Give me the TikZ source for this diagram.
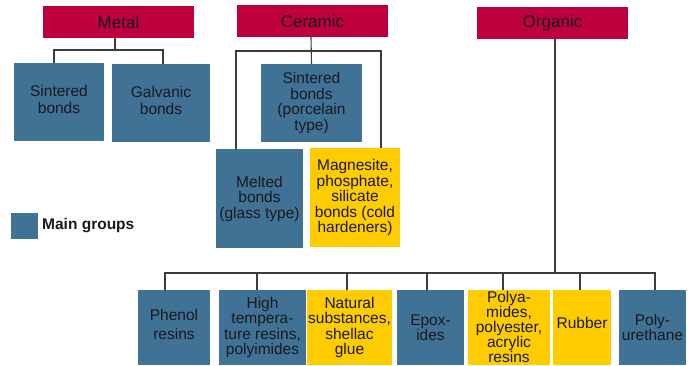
\documentclass[tikz,border=0pt]{standalone}
\usepackage{fontspec}
\setmainfont{Liberation Sans}
\definecolor{cred}{RGB}{190,0,60}
\definecolor{cblue}{RGB}{64,114,150}
\definecolor{cyel}{RGB}{255,204,0}
\definecolor{cline}{RGB}{60,60,60}
\definecolor{ctext}{RGB}{25,25,30}
\begin{document}
\begin{tikzpicture}[x=1pt,y=-1pt,
  title/.style={fill=cred,inner sep=0pt,minimum width=151pt,minimum height=32pt,
    text=ctext,font=\fontsize{17}{17}\selectfont},
  gbox/.style={inner sep=0pt,align=center,text=ctext,
    font=\fontsize{15.5}{15.5}\selectfont},
  bluebox/.style={gbox,fill=cblue},
  yelbox/.style={gbox,fill=cyel},
  conn/.style={draw=cline,line width=1.1pt}]
\useasboundingbox (0,0) rectangle (693,365);
% titles
\node[title] (metal) at (118.5,22) {Metal};
\node[title] (ceramic) at (312.5,21) {Ceramic};
\node[title] (organic) at (552.5,23) {Organic};
% metal children
\node[bluebox,minimum width=90pt,minimum height=78pt] (ms) at (59,102) {\raisebox{5pt}{Sintered}\\\raisebox{5pt}{bonds}};
\node[bluebox,minimum width=98pt,minimum height=78pt] (mg) at (161,103) {\raisebox{5pt}{Galvanic}\\\raisebox{5pt}{bonds}};
% ceramic children
\node[bluebox,minimum width=101pt,minimum height=78pt] (cs) at (311.5,103) {Sintered\\bonds\\(porcelain\\type)};
\node[bluebox,minimum width=87pt,minimum height=99pt] (cm) at (259.5,198.5) {Melted\\bonds\\(glass type)};
\node[yelbox,minimum width=90pt,minimum height=99pt] (cg) at (355,197.5) {Magnesite,\\phosphate,\\silicate\\bonds (cold\\hardeners)};
% legend
\node[fill=cblue,inner sep=0pt,minimum width=27pt,minimum height=26pt] (leg) at (24.5,226) {};
\node[anchor=west,inner sep=0pt,text=ctext,font=\fontsize{15.5}{15.5}\selectfont\bfseries] (legt) at (42,226) {Main groups};
% organic children
\node[bluebox,minimum width=72pt,minimum height=75pt] (phen) at (174,327.5) {\raisebox{7pt}{Phenol}\\\raisebox{7pt}{resins}};
\node[bluebox,minimum width=87pt,minimum height=75pt] (ht) at (262.5,327.5) {High\\tempera-\\ture resins,\\polyimides};
\node[yelbox,minimum width=85pt,minimum height=75pt] (nat) at (349.5,327.5) {\raisebox{-4pt}{Natural}\\\raisebox{-4pt}{substances,}\\\raisebox{-4pt}{shellac}\\\raisebox{-4pt}{glue}};
\node[bluebox,minimum width=67pt,minimum height=75pt] (epo) at (430.5,327.5) {Epox-\\ides};
\node[yelbox,minimum width=82pt,minimum height=75pt,font=\fontsize{15.5}{14.4}\selectfont] (pa) at (509,327.5) {\raisebox{1pt}{Polya-}\\\raisebox{1pt}{mides,}\\\raisebox{1pt}{polyester,}\\\raisebox{1pt}{acrylic}\\\raisebox{1pt}{resins}};
\node[yelbox,minimum width=58pt,minimum height=75pt] (rub) at (582,327.5) {\raisebox{9pt}{Rubber}};
\node[bluebox,minimum width=67pt,minimum height=75pt] (pu) at (652.5,327.5) {Poly-\\urethane};
% junctions
\coordinate (mj) at (115,50);
\coordinate (cj) at (311,51);
\coordinate (oj) at (555,273);
% metal connectors
\draw[conn] ([xshift=-3.5pt]metal.south) -- (mj);
\draw[conn] ([xshift=-5pt]ms.north) |- (mj) -| ([xshift=2pt]mg.north);
% ceramic connectors
\draw[conn] ([xshift=-1.5pt]ceramic.south) -- (cs.north);
\draw[conn] ([xshift=-23.5pt]cm.north) |- (cj) -| ([xshift=26pt]cg.north);
% organic connectors
\draw[conn] ([xshift=2.5pt]organic.south) -- (oj);
\draw[conn] ([xshift=-9pt]phen.north) |- (oj) -| ([xshift=2.5pt]pu.north);
\draw[conn] ([xshift=-5.5pt]ht.north) -- ([xshift=-5.5pt]ht.north |- oj);
\draw[conn] ([xshift=-2.5pt]nat.north) -- ([xshift=-2.5pt]nat.north |- oj);
\draw[conn] ([xshift=-3.5pt]epo.north) -- ([xshift=-3.5pt]epo.north |- oj);
\draw[conn] ([xshift=-6pt]pa.north) -- ([xshift=-6pt]pa.north |- oj);
\draw[conn] ([xshift=-2pt]rub.north) -- ([xshift=-2pt]rub.north |- oj);
\end{tikzpicture}
\end{document}
